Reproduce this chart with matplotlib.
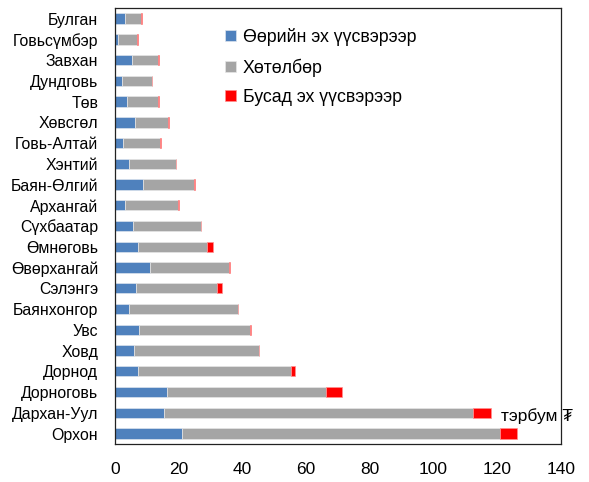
import numpy as np
import matplotlib.pyplot as plt

plt.rcParams['font.family'] = ['Liberation Sans', 'DejaVu Sans']

# аймгууд, дээрээс доош
aimag = ['Булган', 'Говьсүмбэр', 'Завхан', 'Дундговь', 'Төв', 'Хөвсгөл',
         'Говь-Алтай', 'Хэнтий', 'Баян-Өлгий', 'Архангай', 'Сүхбаатар',
         'Өмнөговь', 'Өвөрхангай', 'Сэлэнгэ', 'Баянхонгор', 'Увс', 'Ховд',
         'Дорнод', 'Дорноговь', 'Дархан-Уул', 'Орхон']
oorin = [3.2, 1.0, 5.3, 2.3, 3.7, 6.3, 2.5, 4.4, 8.8, 3.1, 5.6,
         7.2, 10.9, 6.7, 4.4, 7.5, 5.9, 7.2, 16.3, 15.4, 21.1]
hotolbor = [5.0, 6.0, 8.2, 9.3, 9.8, 10.3, 11.6, 14.7, 16.1, 16.7, 21.4,
            21.7, 25.0, 25.3, 34.2, 34.9, 39.3, 48.1, 50.1, 97.1, 99.7]
busad = [0.3, 0.15, 0.3, 0.2, 0.5, 0.4, 0.3, 0.2, 0.4, 0.3, 0.15,
         1.9, 0.4, 1.5, 0.2, 0.2, 0.2, 1.2, 4.8, 5.5, 5.4]
series_names = ['Өөрийн эх үүсвэрээр', 'Хөтөлбөр', 'Бусад эх үүсвэрээр']
xticks = [0, 20, 40, 60, 80, 100, 120, 140]

fig = plt.figure(figsize=(5.89, 4.82), dpi=100)
ax = fig.add_axes([0.195, 0.079, 0.757, 0.904])

y = np.arange(len(aimag))
a = np.array(oorin)
b = np.array(hotolbor)
c = np.array(busad)
h = 0.5
ax.barh(y, a, height=h, color='#4F81BD', edgecolor='#DCE3EE', linewidth=0.5, label=series_names[0])
ax.barh(y, b, left=a, height=h, color='#A5A5A5', edgecolor='#E6E6E6', linewidth=0.5, label=series_names[1])
ax.barh(y, c, left=a + b, height=h, color='#FF0000', edgecolor='#FF9090', linewidth=0.5, label=series_names[2])

ax.set_yticks(y)
ax.set_yticklabels(aimag, fontsize=11.4)
ax.set_ylim(len(aimag) - 0.5, -0.5)
ax.set_xlim(0, 140)
ax.set_xticks(xticks)
ax.tick_params(axis='x', length=0, pad=13, labelsize=12.5)
ax.tick_params(axis='y', length=0, pad=12)
for s in ax.spines.values():
    s.set_color('#222222')
    s.set_linewidth(0.9)

ax.text(121.4, 19.15, 'тэрбум ₮', fontsize=12.5, va='center', ha='left', clip_on=False)

fig.legend(loc='upper left', bbox_to_anchor=(0.37, 0.957), frameon=False,
           fontsize=12.8, handlelength=0.6, handleheight=0.6, handletextpad=0.4,
           labelspacing=0.7, borderaxespad=0)

fig.savefig('out.png', dpi=100)
